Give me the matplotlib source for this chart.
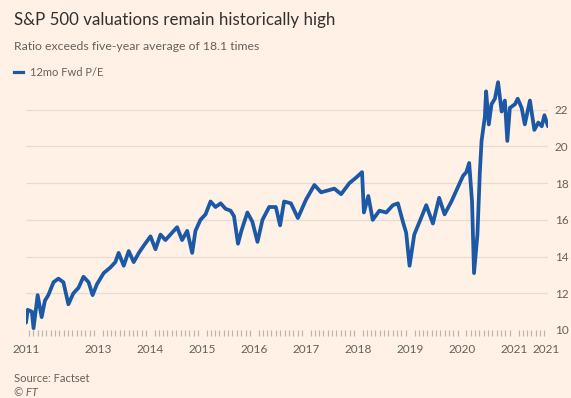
import matplotlib
matplotlib.use('Agg')
import matplotlib.pyplot as plt
import pandas as pd

# ---- data ----
dates = [
    '2011-08-11', '2011-08-23', '2011-09-21', '2011-10-03', '2011-11-01', '2011-11-29', '2011-12-22',
    '2012-01-15', '2012-02-20', '2012-03-26', '2012-04-30', '2012-06-04', '2012-07-09', '2012-08-14',
    '2012-09-18', '2012-10-24', '2012-11-21', '2012-12-22',
    '2013-02-07', '2013-03-25', '2013-04-30', '2013-05-23', '2013-06-28', '2013-08-02', '2013-09-06',
    '2013-10-12', '2013-11-16',
    '2014-01-02', '2014-02-06', '2014-03-13', '2014-04-17', '2014-05-22', '2014-07-08', '2014-08-12',
    '2014-09-17', '2014-10-22', '2014-11-14', '2014-12-19',
    '2015-01-24', '2015-02-28', '2015-04-04', '2015-05-10', '2015-06-14', '2015-07-19', '2015-08-12',
    '2015-09-09', '2015-10-03', '2015-11-14', '2015-12-19',
    '2016-01-24', '2016-02-28', '2016-04-15', '2016-06-01', '2016-07-01', '2016-07-29', '2016-09-15',
    '2016-11-03', '2016-12-30',
    '2017-02-27', '2017-04-15', '2017-06-01', '2017-07-17', '2017-09-03', '2017-10-31', '2017-12-17',
    '2018-01-28', '2018-02-10', '2018-03-13', '2018-04-13', '2018-05-30', '2018-07-17', '2018-09-02',
    '2018-10-07', '2018-11-11', '2018-12-04', '2018-12-28',
    '2019-01-30', '2019-03-19', '2019-04-24', '2019-06-10', '2019-07-24', '2019-08-31', '2019-10-18',
    '2019-11-22',
    '2020-01-08', '2020-01-31', '2020-02-20', '2020-03-11', '2020-03-25', '2020-04-18', '2020-05-05',
    '2020-05-17', '2020-06-09', '2020-06-18', '2020-07-07', '2020-07-26', '2020-08-19', '2020-09-10',
    '2020-10-05', '2020-10-28', '2020-11-14', '2020-12-02',
    '2021-01-07', '2021-01-26', '2021-02-23', '2021-03-17', '2021-04-22', '2021-05-23', '2021-06-20',
    '2021-07-14', '2021-08-02', '2021-08-27',
]
pe = [
    10.4, 11.1, 11.0, 10.1, 11.9, 10.7, 11.6,
    11.9, 12.6, 12.8, 12.6, 11.4, 12.0, 12.3,
    12.9, 12.6, 11.9, 12.5,
    13.1, 13.4, 13.7, 14.2, 13.5, 14.3, 13.7,
    14.2, 14.6,
    15.1, 14.4, 15.2, 14.9, 15.2, 15.6, 14.9,
    15.4, 14.2, 15.4, 16.0,
    16.3, 17.0, 16.7, 16.9, 16.6, 16.5, 16.2,
    14.7, 15.4, 16.4, 15.9,
    14.8, 16.0, 16.7, 16.7, 15.7, 17.0, 16.9,
    16.1, 17.1,
    17.9, 17.5, 17.6, 17.7, 17.4, 18.0, 18.3,
    18.6, 16.4, 17.3, 16.0, 16.5, 16.4, 16.8,
    16.9, 15.9, 15.3, 13.5,
    15.2, 16.1, 16.8, 15.8, 17.2, 16.3, 17.0,
    17.6,
    18.4, 18.6, 19.1, 17.0, 13.1, 15.2, 18.6,
    20.3, 21.6, 23.0, 21.2, 22.3, 22.6, 23.5,
    21.9, 22.5, 20.3, 22.1,
    22.3, 22.6, 22.1, 21.2, 22.5, 20.9, 21.3,
    21.1, 21.7, 21.1,
]
series_label = '12mo Fwd P/E'
x_tick_dates = ['2011-08-11', '2013-01-01', '2014-01-01', '2015-01-01', '2016-01-01', '2017-01-01',
                '2018-01-01', '2019-01-01', '2020-01-01', '2021-01-01', '2021-08-15']
x_tick_labels = ['2011', '2013', '2014', '2015', '2016', '2017', '2018', '2019', '2020', '2021', '2021']
y_ticks = [10, 12, 14, 16, 18, 20, 22]

title = 'S&P 500 valuations remain historically high'
subtitle = 'Ratio exceeds five-year average of 18.1 times'
source = 'Source: Factset'
credit = '© FT'

# ---- style ----
BG = '#fff1e5'
BLUE = '#1b58a5'
GREY = '#66605c'
GRID = '#e8dbd0'
TICK = '#bfb5ab'
plt.rcParams['font.family'] = ['Lato', 'DejaVu Sans']

W, H = 571, 398
fig = plt.figure(figsize=(W / 100, H / 100), dpi=100, facecolor=BG)
ax_left, ax_right, ax_bottom, ax_top = 26, 548, 330, 73
ax = fig.add_axes([ax_left / W, 1 - ax_bottom / H, (ax_right - ax_left) / W, (ax_bottom - ax_top) / H])
ax.set_facecolor(BG)

x = pd.to_datetime(dates)
ax.plot(x, pe, color=BLUE, lw=2.7, solid_joinstyle='round', solid_capstyle='round', zorder=3)

ax.set_xlim(x[0], x[-1])
ax.set_ylim(10, 24)

for s in ax.spines.values():
    s.set_visible(False)

ax.yaxis.tick_right()
ax.set_yticks(y_ticks)
ax.set_yticklabels([str(v) for v in y_ticks])
ax.tick_params(axis='y', length=0, pad=5, labelsize=8.5, labelcolor=GREY)
for v in y_ticks[1:]:
    ax.axhline(v, color=GRID, lw=0.9, zorder=1)

ax.set_xticks(pd.to_datetime(x_tick_dates))
ax.set_xticklabels(x_tick_labels)
ax.tick_params(axis='x', which='major', length=0, pad=10, labelsize=8.5, labelcolor=GREY)
minor = pd.date_range('2011-09-01', '2021-08-01', freq='MS')
ax.set_xticks(minor, minor=True)
ax.tick_params(axis='x', which='minor', length=4.5, width=0.9, color=TICK, direction='out')

fig.text(14 / W, 1 - 20 / H, title, fontsize=12.2, color='#33302e', va='center', ha='left')
fig.text(14 / W, 1 - 47 / H, subtitle, fontsize=8.8, color=GREY, va='center', ha='left')
fig.add_artist(plt.Line2D([14 / W, 23 / W], [1 - 72 / H, 1 - 72 / H], color=BLUE, lw=2.3))
fig.text(30 / W, 1 - 72 / H, series_label, fontsize=8, color=GREY, va='center', ha='left')
fig.text(14 / W, 1 - 378 / H, source, fontsize=8, color=GREY, va='center', ha='left')
fig.text(14 / W, 1 - 392 / H, credit, fontsize=8, color=GREY, va='center', ha='left', style='italic')

fig.savefig('out.png', dpi=100, facecolor=BG)
